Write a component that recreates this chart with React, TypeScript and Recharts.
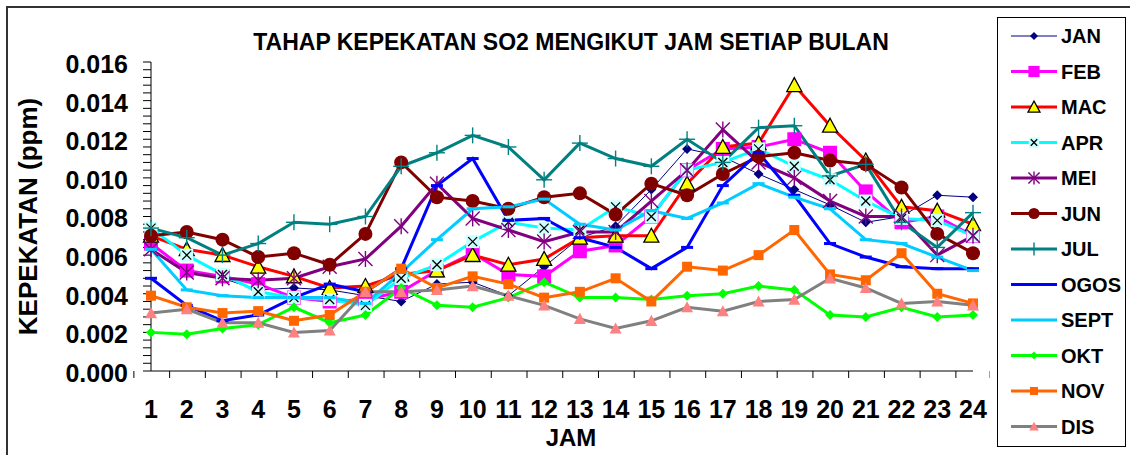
import React from 'react';
import { LineChart, Line, XAxis, YAxis } from 'recharts';

const hours = ['1', '2', '3', '4', '5', '6', '7', '8', '9', '10', '11', '12', '13', '14', '15', '16', '17', '18', '19', '20', '21', '22', '23', '24'];

const jan = [0.0066, 0.0051, 0.0048, 0.0042, 0.0043, 0.0042, 0.0039, 0.0036, 0.0045, 0.0046, 0.0039, 0.0054, 0.0069, 0.0075, 0.0094, 0.0115, 0.0111, 0.0102, 0.0094, 0.0086, 0.0077, 0.0080, 0.0091, 0.0090];
const feb = [0.0066, 0.0052, 0.0049, 0.0045, 0.0038, 0.0036, 0.0037, 0.0041, 0.0052, 0.0061, 0.0050, 0.0049, 0.0062, 0.0065, 0.0080, 0.0104, 0.0115, 0.0116, 0.0120, 0.0113, 0.0093, 0.0077, 0.0080, 0.0070];
const mac = [0.0070, 0.0063, 0.0060, 0.0054, 0.0049, 0.0043, 0.0044, 0.0050, 0.0052, 0.0060, 0.0055, 0.0058, 0.0069, 0.0070, 0.0070, 0.0097, 0.0116, 0.0118, 0.0148, 0.0127, 0.0109, 0.0085, 0.0083, 0.0076];
const apr = [0.0074, 0.0060, 0.0050, 0.0041, 0.0038, 0.0037, 0.0034, 0.0048, 0.0055, 0.0067, 0.0077, 0.0074, 0.0073, 0.0085, 0.0080, 0.0104, 0.0108, 0.0115, 0.0106, 0.0099, 0.0088, 0.0079, 0.0078, 0.0070];
const mei = [0.0063, 0.0051, 0.0048, 0.0047, 0.0048, 0.0054, 0.0058, 0.0075, 0.0097, 0.0079, 0.0073, 0.0067, 0.0072, 0.0072, 0.0088, 0.0104, 0.0125, 0.0108, 0.0100, 0.0088, 0.0080, 0.0080, 0.0060, 0.0070];
const jun = [0.0070, 0.0072, 0.0068, 0.0059, 0.0061, 0.0055, 0.0071, 0.0108, 0.0090, 0.0088, 0.0084, 0.0090, 0.0092, 0.0081, 0.0097, 0.0091, 0.0102, 0.0111, 0.0113, 0.0109, 0.0107, 0.0095, 0.0071, 0.0061];
const jul = [0.0074, 0.0069, 0.0060, 0.0066, 0.0077, 0.0076, 0.0080, 0.0106, 0.0113, 0.0122, 0.0116, 0.0099, 0.0118, 0.0110, 0.0106, 0.0120, 0.0108, 0.0126, 0.0127, 0.0101, 0.0107, 0.0077, 0.0064, 0.0082];
const ogos = [0.0048, 0.0034, 0.0026, 0.0029, 0.0038, 0.0045, 0.0041, 0.0053, 0.0096, 0.0110, 0.0078, 0.0079, 0.0069, 0.0064, 0.0053, 0.0064, 0.0096, 0.0113, 0.0091, 0.0066, 0.0059, 0.0054, 0.0053, 0.0053];
const sept = [0.0063, 0.0042, 0.0039, 0.0038, 0.0038, 0.0038, 0.0035, 0.0051, 0.0068, 0.0084, 0.0085, 0.0089, 0.0076, 0.0073, 0.0083, 0.0079, 0.0087, 0.0097, 0.0090, 0.0084, 0.0068, 0.0066, 0.0059, 0.0052];
const okt = [0.0020, 0.0019, 0.0022, 0.0024, 0.0033, 0.0025, 0.0029, 0.0043, 0.0034, 0.0033, 0.0038, 0.0046, 0.0038, 0.0038, 0.0037, 0.0039, 0.0040, 0.0044, 0.0042, 0.0029, 0.0028, 0.0033, 0.0028, 0.0029];
const nov = [0.0039, 0.0033, 0.0030, 0.0031, 0.0026, 0.0029, 0.0041, 0.0053, 0.0043, 0.0049, 0.0045, 0.0038, 0.0041, 0.0048, 0.0036, 0.0054, 0.0052, 0.0060, 0.0073, 0.0050, 0.0047, 0.0061, 0.0040, 0.0035];
const dis = [0.0030, 0.0032, 0.0025, 0.0025, 0.0020, 0.0021, 0.0041, 0.0041, 0.0042, 0.0044, 0.0039, 0.0034, 0.0027, 0.0022, 0.0026, 0.0033, 0.0031, 0.0036, 0.0037, 0.0048, 0.0043, 0.0035, 0.0036, 0.0034];

const FONT = '"Liberation Sans", Arial, Helvetica, sans-serif';

type Shape = 'diamond' | 'square' | 'triangle' | 'xbox' | 'asterisk' | 'circle' | 'plus' | 'dash';

const SERIES: { key: string; data: number[]; color: string; width: number; shape: Shape; fill: string; size: number }[] = [
  { key: 'JAN', data: jan, color: '#000080', width: 1, shape: 'diamond', fill: '#000080', size: 5 },
  { key: 'FEB', data: feb, color: '#FF00FF', width: 3, shape: 'square', fill: '#FF00FF', size: 7 },
  { key: 'MAC', data: mac, color: '#FF0000', width: 3, shape: 'triangle', fill: '#FFFF00', size: 7.5 },
  { key: 'APR', data: apr, color: '#00FFFF', width: 3, shape: 'xbox', fill: '#CCFFFF', size: 6.5 },
  { key: 'MEI', data: mei, color: '#800080', width: 3, shape: 'asterisk', fill: '#800080', size: 7 },
  { key: 'JUN', data: jun, color: '#800000', width: 3, shape: 'circle', fill: '#800000', size: 7 },
  { key: 'JUL', data: jul, color: '#008080', width: 3, shape: 'plus', fill: '#008080', size: 7 },
  { key: 'OGOS', data: ogos, color: '#0000FF', width: 3, shape: 'dash', fill: '#0000FF', size: 6 },
  { key: 'SEPT', data: sept, color: '#00CCFF', width: 3, shape: 'dash', fill: '#00CCFF', size: 6 },
  { key: 'OKT', data: okt, color: '#00FF00', width: 3, shape: 'diamond', fill: '#00FF00', size: 5 },
  { key: 'NOV', data: nov, color: '#FF6600', width: 3, shape: 'square', fill: '#FF6600', size: 5 },
  { key: 'DIS', data: dis, color: '#808080', width: 3, shape: 'triangle', fill: '#FF8080', size: 6 },
];

const rows = hours.map((h, i) => {
  const r: any = { hour: h };
  SERIES.forEach((s) => (r[s.key] = s.data[i]));
  return r;
});

// small and major ticks along the y axis, labels only on the major ones
const yTicks = Array.from({ length: 41 }, (_, i) => Math.round(i * 4) / 10000);

const W = 990;
const H = 455;
const PLOT_LEFT = 151;
const PLOT_RIGHT = 973;
const PLOT_TOP = 62;
const X_AXIS_H = 84;
const BAND = (PLOT_RIGHT - PLOT_LEFT) / hours.length;

const Marker = ({ shape, cx, cy, fill, size }: any) => {
  const s = size;
  switch (shape) {
    case 'diamond':
      return <polygon points={`${cx},${cy - s} ${cx + s},${cy} ${cx},${cy + s} ${cx - s},${cy}`} fill={fill} />;
    case 'square':
      return <rect x={cx - s} y={cy - s} width={2 * s} height={2 * s} fill={fill} />;
    case 'triangle':
      return (
        <polygon
          points={`${cx},${cy - s} ${cx + s},${cy + s * 0.85} ${cx - s},${cy + s * 0.85}`}
          fill={fill}
          stroke={fill === '#FFFF00' ? '#000' : 'none'}
          strokeWidth={1.3}
        />
      );
    case 'xbox':
      return (
        <g>
          <rect x={cx - s} y={cy - s} width={2 * s} height={2 * s} fill={fill} />
          <line x1={cx - s + 2} y1={cy - s + 2} x2={cx + s - 2} y2={cy + s - 2} stroke="#000" strokeWidth={1.3} />
          <line x1={cx - s + 2} y1={cy + s - 2} x2={cx + s - 2} y2={cy - s + 2} stroke="#000" strokeWidth={1.3} />
        </g>
      );
    case 'asterisk':
      return (
        <g stroke={fill} strokeWidth={1.4}>
          <line x1={cx} y1={cy - s - 1} x2={cx} y2={cy + s + 1} />
          <line x1={cx - s} y1={cy - s} x2={cx + s} y2={cy + s} />
          <line x1={cx - s} y1={cy + s} x2={cx + s} y2={cy - s} />
        </g>
      );
    case 'circle':
      return <circle cx={cx} cy={cy} r={s} fill={fill} />;
    case 'plus':
      return (
        <g stroke={fill} strokeWidth={1.4}>
          <line x1={cx} y1={cy - s - 1} x2={cx} y2={cy + s + 1} />
          <line x1={cx - s - 1} y1={cy} x2={cx + s + 1} y2={cy} />
        </g>
      );
    case 'dash':
      return <line x1={cx - s} y1={cy} x2={cx + s} y2={cy} stroke={fill} strokeWidth={3} />;
    default:
      return null;
  }
};

const XTick = (props: any) => {
  const { x, y, payload, index } = props;
  const half = BAND / 2;
  return (
    <g>
      <line x1={x - half} x2={x - half} y1={y} y2={y + 7} stroke="#000" />
      {index === hours.length - 1 && <line x1={x + half} x2={x + half} y1={y} y2={y + 7} stroke="#000" />}
      <text x={x} y={y + 47} textAnchor="middle" fontSize={25} fontWeight="bold" fontFamily={FONT} fill="#000">
        {payload.value}
      </text>
    </g>
  );
};

const yLabel = (props: any) => {
  const vb = props.viewBox;
  const cx = vb.x + 28;
  const cy = vb.y + vb.height / 2;
  return (
    <text
      x={cx}
      y={cy}
      transform={`rotate(-90 ${cx} ${cy})`}
      textAnchor="middle"
      dominantBaseline="central"
      fontSize={26}
      fontWeight="bold"
      fontFamily={FONT}
      fill="#000"
    >
      KEPEKATAN (ppm)
    </text>
  );
};

export default function App() {
  return (
    <div style={{ position: 'absolute', left: 0, top: 0, width: 1130, height: 455, overflow: 'hidden', background: '#fff' }}>
      <div style={{ position: 'absolute', left: 0, top: 0 }}>
        <LineChart width={W} height={H} data={rows} margin={{ top: PLOT_TOP, right: W - PLOT_RIGHT, bottom: 0, left: 0 }}>
          <XAxis
            dataKey="hour"
            interval={0}
            height={X_AXIS_H}
            tickSize={0}
            tickMargin={0}
            tickLine={false}
            axisLine={{ stroke: '#000', strokeWidth: 1 }}
            tick={<XTick />}
          />
          <XAxis xAxisId="top" dataKey="hour" orientation="top" height={0} tick={false} tickLine={false} axisLine={{ stroke: '#000' }} />
          <YAxis
            width={PLOT_LEFT}
            domain={[0, 0.016]}
            ticks={yTicks}
            interval={0}
            tickSize={8}
            tickMargin={15}
            tickLine={{ stroke: '#000' }}
            axisLine={{ stroke: '#000' }}
            tickFormatter={(v: number) => (Math.round(v * 10000) % 20 === 0 ? v.toFixed(3) : '')}
            tick={{ fontSize: 25, fontWeight: 'bold', fontFamily: FONT, fill: '#000', dy: 2 }}
            label={{ content: yLabel }}
          />
          <YAxis yAxisId="right" orientation="right" width={0} domain={[0, 0.016]} tick={false} tickLine={false} axisLine={{ stroke: '#808080', strokeWidth: 2 }} />
          {SERIES.map((s) => (
            <Line
              key={s.key}
              dataKey={s.key}
              stroke={s.color}
              strokeWidth={s.width}
              isAnimationActive={false}
              activeDot={false}
              dot={(p: any) => (
                <Marker key={`${s.key}-${p.index}`} shape={s.shape} cx={p.cx} cy={p.cy} fill={s.fill} size={s.size} />
              )}
            />
          ))}
        </LineChart>
      </div>
      <svg width={1130} height={455} style={{ position: 'absolute', left: 0, top: 0, pointerEvents: 'none' }}>
        <text x={571} y={50} textAnchor="middle" fontSize={23} fontWeight="bold" fontFamily={FONT} fill="#000">
          TAHAP KEPEKATAN SO2 MENGIKUT JAM SETIAP BULAN
        </text>
        <text x={571} y={446} textAnchor="middle" fontSize={24} fontWeight="bold" fontFamily={FONT} fill="#000">
          JAM
        </text>
        <rect x={997.5} y={17.5} width={128} height={429} fill="#fff" stroke="#000" strokeWidth={1} />
        {SERIES.map((s, i) => {
          const cy = 36 + i * 35.5;
          return (
            <g key={s.key}>
              <line x1={1011} x2={1057} y1={cy} y2={cy} stroke={s.color} strokeWidth={s.width} />
              <Marker shape={s.shape} cx={1034} cy={cy} fill={s.fill} size={s.shape === 'dash' ? 0 : s.size * 0.8} />
              <text x={1061} y={cy + 7} fontSize={20} fontWeight="bold" fontFamily={FONT} fill="#000">
                {s.key}
              </text>
            </g>
          );
        })}
        <rect x={7} y={7} width={1140} height={470} fill="none" stroke="#333" strokeWidth={2} />
      </svg>
    </div>
  );
}
